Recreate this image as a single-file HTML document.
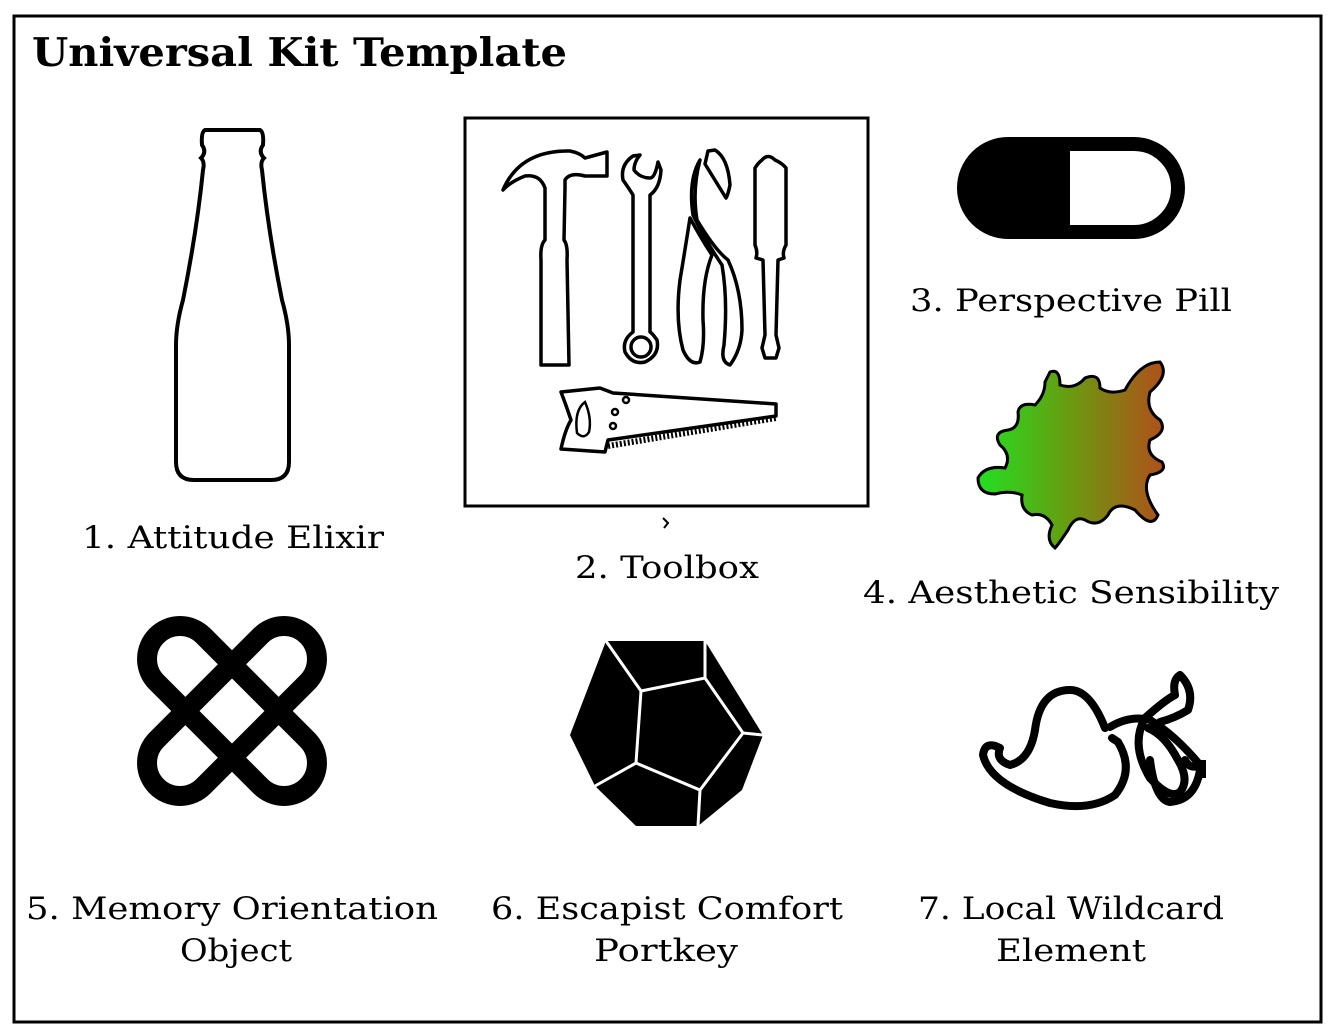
<!DOCTYPE html>
<html><head><meta charset="utf-8"><style>
html,body{margin:0;padding:0;background:#fff;width:1334px;height:1030px;overflow:hidden}
text{font-family:"DejaVu Serif","Liberation Serif",serif;fill:#000}
</style></head><body>
<svg width="1334" height="1030" viewBox="0 0 1334 1030" xmlns="http://www.w3.org/2000/svg">
<defs>
<linearGradient id="g" x1="0" x2="1" y1="0" y2="0">
<stop offset="0" stop-color="#22e022"/><stop offset="0.5" stop-color="#6a9a10"/><stop offset="1" stop-color="#b0501a"/>
</linearGradient>
</defs>
<rect x="14" y="16" width="1307" height="1006" fill="#fff" stroke="#000" stroke-width="3"/>
<text x="32" y="66" font-size="39" font-weight="bold" textLength="535" lengthAdjust="spacingAndGlyphs">Universal Kit Template</text>

<path d="M205,130 L260,130 Q264,132 263,145 Q258,152 264,158 Q260,162 262,170 Q268,230 282,300 Q289,325 289,345 L289,462 Q289,480 271,480 L194,480 Q176,480 176,462 L176,345 Q176,325 183,300 Q197,230 203,170 Q205,162 201,158 Q207,152 202,145 Q201,132 205,130 Z" fill="#fff" stroke="#000" stroke-width="4"/>

<rect x="465" y="118" width="403" height="388" fill="#fff" stroke="#000" stroke-width="3"/>
<g fill="#fff" stroke="#000" stroke-width="3.5" stroke-linejoin="round">
<path d="M503,190 Q520,150 570,151 Q580,153 585,158 L607,152 L607,176 L585,176 Q570,172 565,180 L565,188 L564,240 Q568,245 567,260 L569,365 L541,365 L541,260 Q540,245 545,240 L545,188 Q540,174 525,176 Q510,182 503,190 Z"/>
<path d="M633,156 Q620,165 623,180 Q630,190 633,195 L633,332 Q622,340 625,352 Q632,365 645,362 Q660,355 657,340 Q652,333 650,332 L650,195 Q660,188 661,170 L658,162 Q655,178 650,178 Q640,178 634,170 Q634,162 640,155 Z"/>
<circle cx="641" cy="347" r="10"/>
<path d="M708,151 L715,150 Q728,158 730,185 Q728,195 726,198 L705,164 Z"/>
<path d="M700,160 Q692,190 697,220 Q715,250 728,260 Q742,290 742,330 Q741,350 730,365 Q720,362 724,345 Q728,300 722,265 Q705,240 693,215 Q688,180 700,160 Z"/>
<path d="M690,218 Q702,240 712,255 Q702,280 703,320 Q705,345 700,362 Q690,366 683,350 Q675,320 680,280 Q685,250 690,218 Z"/>
<path d="M762,160 Q768,153 775,160 Q782,163 786,168 L786,245 Q782,252 784,258 L778,260 L776,335 L779,348 L776,358 L765,358 L762,348 L765,335 L763,260 L756,258 Q758,252 755,245 L755,168 Q758,163 762,160 Z"/>
<path d="M561,392 L600,388 L613,393 L776,404 L776,416 L608,440 L605,452 L561,449 Q565,430 571,420 Q566,405 561,392 Z"/>
</g>
<g fill="none" stroke="#000" stroke-width="2.5">
<path d="M585,402 Q574,410 577,433 Q584,440 589,432 Q592,418 585,402 Z"/>
<circle cx="626" cy="400" r="3"/><circle cx="615" cy="412" r="3"/><circle cx="613" cy="426" r="3"/>
<path d="M608,446 L776,418" stroke-width="6" stroke-dasharray="2 2"/>
</g>
<path d="M663,518 L668,523 L664,528" fill="none" stroke="#000" stroke-width="2"/>

<rect x="964" y="144" width="214" height="88" rx="44" fill="#fff" stroke="#000" stroke-width="14"/>
<path d="M1008,144 L1070,144 L1070,232 L1008,232 A44,44 0 0 1 1008,144 Z" fill="#000"/>

<path d="M1050,372 Q1060,368 1060,385 Q1075,390 1085,378 Q1100,372 1100,388 Q1110,395 1125,390 Q1140,362 1160,362 Q1170,375 1150,392 Q1145,410 1160,420 Q1168,432 1150,440 Q1145,455 1162,462 Q1168,472 1150,475 Q1140,490 1158,515 Q1152,530 1135,510 Q1115,500 1108,515 Q1098,528 1085,520 Q1075,515 1068,530 Q1058,545 1055,548 Q1045,540 1052,525 Q1045,512 1032,515 Q1020,510 1022,495 Q1010,490 995,494 Q978,494 978,478 Q985,465 1005,468 Q1012,455 1000,445 Q992,432 1008,430 Q1020,428 1018,412 Q1020,402 1035,405 Q1045,395 1045,382 Z" fill="url(#g)" stroke="#000" stroke-width="3"/>

<g fill="none" stroke="#000" stroke-width="20">
<rect x="125.5" y="678" width="213" height="66" rx="33" transform="rotate(45 232 711)"/>
<rect x="125.5" y="678" width="213" height="66" rx="33" transform="rotate(-45 232 711)"/>
</g>

<path d="M606,641 L705,641 L763,735 L742,790 L698,826 L636,826 L595,786 L570,735 Z" fill="#000"/>
<g fill="none" stroke="#fff" stroke-width="3">
<path d="M641,691 L705,678 L743,733 L700,790 L636,763 Z"/>
<path d="M606,641 L641,691 M705,641 L705,678 M763,735 L743,733 M700,790 L698,826 M636,763 L595,786"/>
</g>

<g fill="none" stroke="#000" stroke-width="8" stroke-linecap="round" stroke-linejoin="round">
<path d="M1105,728 Q1090,690 1070,690 Q1040,690 1035,730 Q1030,760 1010,765 Q995,760 1000,748 Q985,740 983,755 Q990,785 1050,803 Q1090,812 1115,795 Q1135,770 1118,742 L1112,738"/>
<path d="M1110,727 Q1130,715 1150,720 Q1175,735 1200,765 Q1190,770 1185,760"/>
<path d="M1145,718 Q1130,745 1150,778 Q1170,800 1180,792 Q1190,780 1178,760 Q1165,735 1148,728"/>
<path d="M1150,760 Q1155,800 1170,802 Q1195,800 1200,770"/>
<path d="M1145,718 Q1165,700 1175,695 Q1172,680 1180,675 Q1195,690 1188,710 Q1175,718 1160,722"/>
</g>
<rect x="1198" y="760" width="8" height="18" fill="#000"/>

<g font-size="31">
<text x="233" y="548" text-anchor="middle" textLength="302" lengthAdjust="spacingAndGlyphs">1. Attitude Elixir</text>
<text x="667" y="578" text-anchor="middle" textLength="184" lengthAdjust="spacingAndGlyphs">2. Toolbox</text>
<text x="1071" y="311" text-anchor="middle" textLength="322" lengthAdjust="spacingAndGlyphs">3. Perspective Pill</text>
<text x="1071" y="603" text-anchor="middle" textLength="416" lengthAdjust="spacingAndGlyphs">4. Aesthetic Sensibility</text>
<text x="232" y="919" text-anchor="middle" textLength="412" lengthAdjust="spacingAndGlyphs">5. Memory Orientation</text>
<text x="236" y="961" text-anchor="middle" textLength="112" lengthAdjust="spacingAndGlyphs">Object</text>
<text x="667" y="919" text-anchor="middle" textLength="352" lengthAdjust="spacingAndGlyphs">6. Escapist Comfort</text>
<text x="666" y="961" text-anchor="middle" textLength="144" lengthAdjust="spacingAndGlyphs">Portkey</text>
<text x="1071" y="919" text-anchor="middle" textLength="306" lengthAdjust="spacingAndGlyphs">7. Local Wildcard</text>
<text x="1071" y="961" text-anchor="middle" textLength="150" lengthAdjust="spacingAndGlyphs">Element</text>
</g>
</svg>
</body></html>
